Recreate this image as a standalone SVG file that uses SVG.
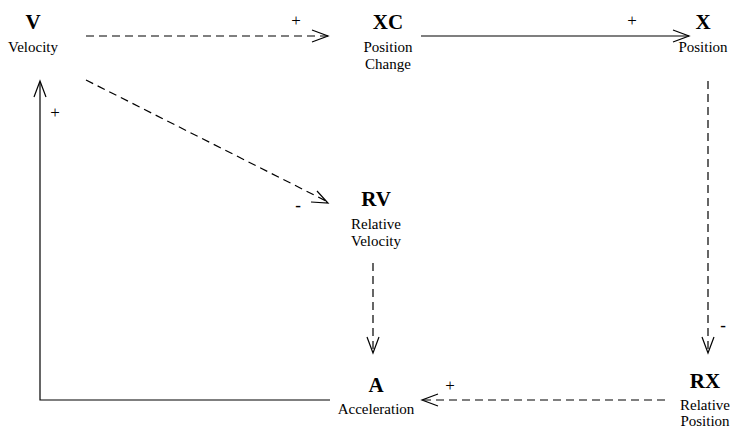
<svg xmlns="http://www.w3.org/2000/svg" width="738" height="428" viewBox="0 0 738 428">
<style>
text{font-family:'Liberation Serif','Times New Roman',serif;fill:#000;text-anchor:middle}
.b{font-weight:bold;font-size:21px}
.n{font-size:15px}
.s{font-size:17px}
.ln{stroke:#000;stroke-width:1.2;fill:none}
.d{stroke-dasharray:8,5}
.ah{stroke:#000;stroke-width:1.2;fill:none}
</style>
<rect width="738" height="428" fill="#fff"/>
<g id="connectors">
  <line class="ln d" x1="86" y1="36" x2="328" y2="36"/>
  <polyline class="ah" points="312,30 328,36 312,42"/>
  <line class="ln" x1="421" y1="36" x2="689" y2="36"/>
  <polyline class="ah" points="673,30 689,36 673,42"/>
  <line class="ln d" x1="708" y1="81" x2="708" y2="352"/>
  <polyline class="ah" points="702,337 708,353 714,337"/>
  <line class="ln d" x1="665" y1="400" x2="422" y2="400"/>
  <polyline class="ah" points="438,394 422,400 438,406"/>
  <line class="ln d" x1="373" y1="263" x2="373" y2="352"/>
  <polyline class="ah" points="367,337 373,353 379,337"/>
  <line class="ln d" x1="86" y1="80" x2="328" y2="202"/>
  <polyline class="ah" points="311,202 328,203 317,191"/>
  <polyline class="ln" points="330,400 40,400 40,82"/>
  <polyline class="ah" points="34,97 40,81 46,97"/>
  <text class="s" x="296" y="26">+</text>
  <text class="s" x="632" y="26">+</text>
  <text class="s" x="723" y="331" font-weight="bold">-</text>
  <text class="s" x="450" y="391">+</text>
  <text class="s" x="55" y="118">+</text>
  <text class="s" x="298" y="211" font-weight="bold">-</text>
</g>
<g id="V">
  <text class="b" x="33" y="29">V</text>
  <text class="n" x="33" y="52">Velocity</text>
</g>
<g id="XC">
  <text class="b" x="388" y="29">XC</text>
  <text class="n" x="388" y="52">Position</text>
  <text class="n" x="388" y="69">Change</text>
</g>
<g id="X">
  <text class="b" x="703" y="29">X</text>
  <text class="n" x="703" y="52">Position</text>
</g>
<g id="RV">
  <text class="b" x="376" y="206">RV</text>
  <text class="n" x="376" y="229">Relative</text>
  <text class="n" x="376" y="246">Velocity</text>
</g>
<g id="A">
  <text class="b" x="376" y="392">A</text>
  <text class="n" x="376" y="414">Acceleration</text>
</g>
<g id="RX">
  <text class="b" x="705" y="388">RX</text>
  <text class="n" x="705" y="410">Relative</text>
  <text class="n" x="705" y="426">Position</text>
</g>
</svg>
